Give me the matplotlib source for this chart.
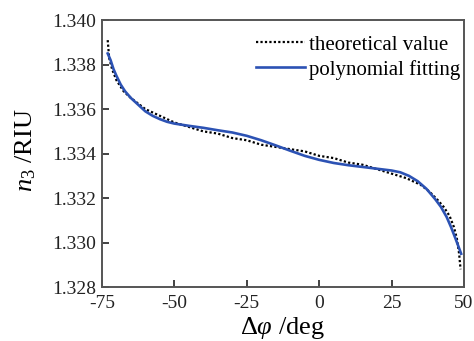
import matplotlib
matplotlib.use("Agg")
import matplotlib.pyplot as plt

theo_x = [-73, -72.5, -71.5, -70, -67.5, -65, -60, -55, -50, -45, -40, -35, -30, -25,
          -20, -15, -10, -5, 0, 5, 10, 15, 20, 25, 30, 35, 38, 41, 43, 45, 46.5, 47.5, 48.3, 48.8]
theo_y = [1.3391, 1.3383, 1.3378, 1.3373, 1.3368, 1.3365, 1.3360, 1.3357, 1.3354, 1.3352,
          1.3350, 1.3349, 1.3347, 1.3346, 1.3344, 1.3343, 1.3342, 1.3341, 1.3339, 1.3338,
          1.3336, 1.3335, 1.3333, 1.3331, 1.3329, 1.3326, 1.3323, 1.3319, 1.3316, 1.3312,
          1.3307, 1.3302, 1.3295, 1.3288]

fit_x = [-73, -72, -71, -70, -68.5, -67, -65, -62.5, -60, -57.5, -55, -52.5, -50, -45, -40,
         -35, -30, -25, -20, -15, -10, -5, 0, 5, 10, 15, 20, 25, 28, 31, 34, 37, 40, 42, 44,
         45.5, 47, 48, 49]
fit_y = [1.3385, 1.3382, 1.3378, 1.3375, 1.3371, 1.3368, 1.3365, 1.3362, 1.3359, 1.3357,
         1.33555, 1.33543, 1.33535, 1.33525, 1.33516, 1.33505, 1.33495, 1.33480, 1.33460,
         1.33437, 1.33413, 1.33390, 1.33372, 1.33358, 1.33348, 1.33340, 1.33332, 1.33324,
         1.33316, 1.33300, 1.33276, 1.33242, 1.33196, 1.33161, 1.33115, 1.33070, 1.33020,
         1.32985, 1.32950]

xticks = [-75, -50, -25, 0, 25, 50]
yticks = [1.328, 1.330, 1.332, 1.334, 1.336, 1.338, 1.340]
ytick_labels = ["1.328", "1.330", "1.332", "1.334", "1.336", "1.338", "1.340"]

plt.rcParams['font.family'] = ['Liberation Serif', 'DejaVu Serif']
plt.rcParams['mathtext.fontset'] = 'custom'
plt.rcParams['mathtext.rm'] = 'Liberation Serif'
plt.rcParams['mathtext.it'] = 'Liberation Serif:italic'
plt.rcParams['axes.unicode_minus'] = False

fig = plt.figure(figsize=(4.74, 3.41), dpi=100)
ax = fig.add_axes([0.215, 0.158, 0.764, 0.783])

ax.plot(theo_x, theo_y, color='black', linestyle=(0, (1, 1)), linewidth=1.6,
        label='theoretical value')
ax.plot(fit_x, fit_y, color='#2C52B4', linestyle='-', linewidth=1.9, label='polynomial fitting')

ax.set_xlim(-75, 50)
ax.set_ylim(1.328, 1.340)
ax.set_xticks(xticks)
ax.set_xticklabels([str(t) for t in xticks])
ax.set_yticks(yticks)
ax.set_yticklabels(ytick_labels)
ax.tick_params(direction='in', length=5, width=1.2, labelsize=14, colors='#222222',
               top=False, right=False)
ax.tick_params(axis='x', pad=6)
ax.tick_params(axis='y', pad=4)
for s in ax.spines.values():
    s.set_color('#555555')
    s.set_linewidth(1.4)

ax.set_xlabel(r'$\Delta\varphi$ /deg', fontsize=19)
ax.xaxis.label.set_va('baseline')
ax.xaxis.set_label_coords(0.5, -47 / 267)
ax.set_ylabel(r'$n_3$ /RIU', fontsize=19)
ax.yaxis.label.set_va('baseline')
ax.yaxis.set_label_coords(-69 / 362, 0.513)

ax.legend(loc='upper right', frameon=False, fontsize=15, handlelength=2.35,
          handletextpad=0.2, borderpad=0, borderaxespad=0, labelspacing=0.25,
          bbox_to_anchor=(460 / 474, 1 - 35 / 341), bbox_transform=fig.transFigure)

fig.savefig('out.png', dpi=100)
